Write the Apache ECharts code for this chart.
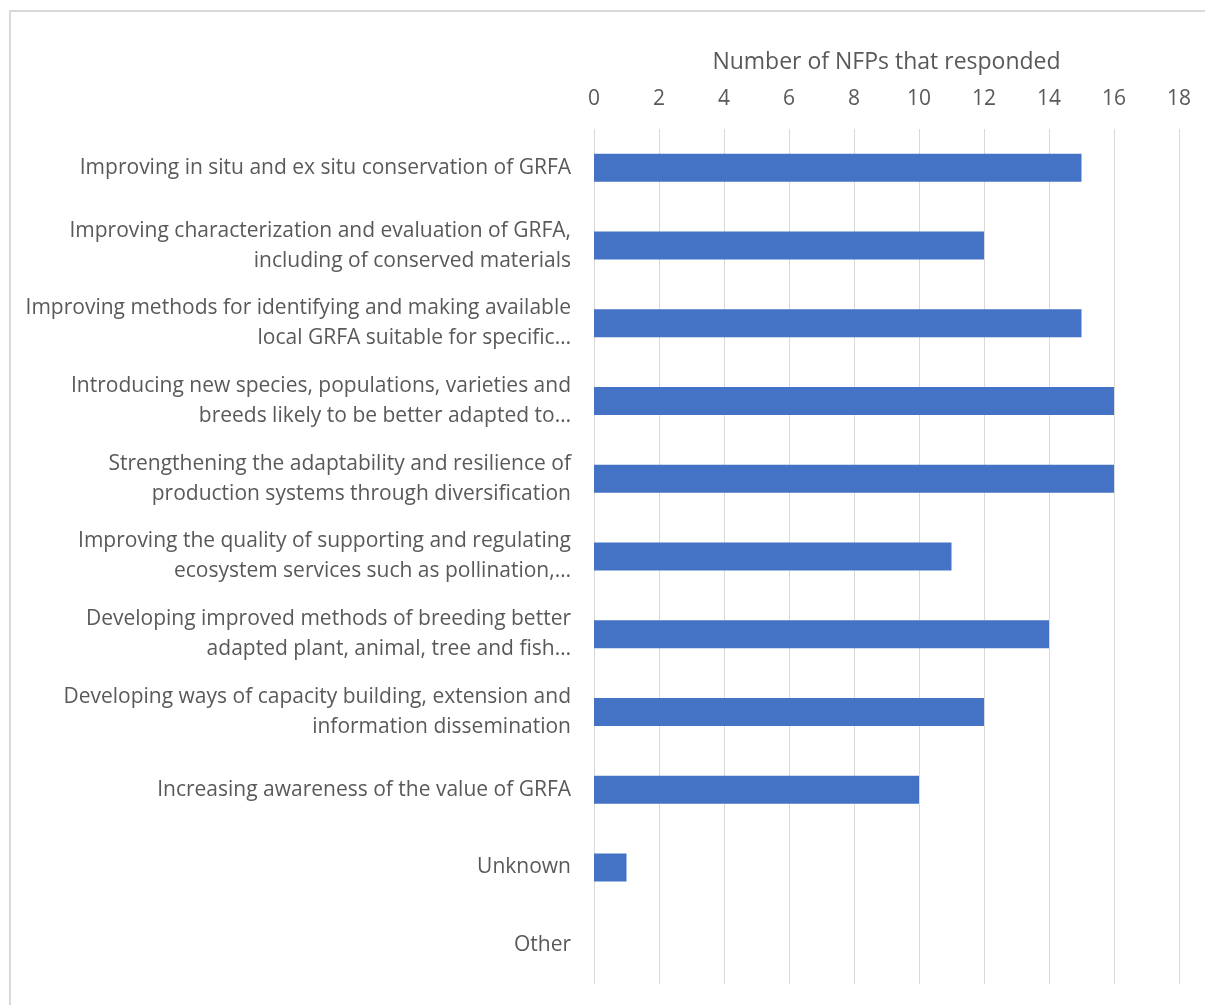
<!DOCTYPE html>
<html>
<head>
<meta charset="utf-8">
<script src="https://cdn.jsdelivr.net/npm/echarts@6/dist/echarts.min.js"></script>
<style>
  html, body { margin: 0; padding: 0; background: #fff; }
  #frame { position: absolute; left: 9px; top: 10px; width: 1205px; height: 1005px;
           border-left: 2px solid #d9d9d9; border-top: 2px solid #d9d9d9; }
  #chart { position: absolute; left: 0; top: 0; width: 1205px; height: 1005px; }
</style>
</head>
<body>
<div id="frame"></div>
<div id="chart"></div>
<script>
// Survey categories (top to bottom)
const categories = [
  'Improving in situ and ex situ conservation of GRFA',
  'Improving characterization and evaluation of GRFA,\nincluding of conserved materials',
  'Improving methods for identifying and making available\nlocal GRFA suitable for specific…',
  'Introducing new species, populations, varieties and\nbreeds likely to be better adapted to…',
  'Strengthening the adaptability and resilience of\nproduction systems through diversification',
  'Improving the quality of supporting and regulating\necosystem services such as pollination,…',
  'Developing improved methods of breeding better\nadapted plant, animal, tree and fish…',
  'Developing ways of capacity building, extension and\ninformation dissemination',
  'Increasing awareness of the value of GRFA',
  'Unknown',
  'Other'
];
// Number of NFPs giving each answer
const responses = [15, 12, 15, 16, 16, 11, 14, 12, 10, 1, 0];
const axisTitle = 'Number of NFPs that responded';

const chart = echarts.init(document.getElementById('chart'), null, { renderer: 'canvas' });
const font = '"Open Sans", Lato, sans-serif';
chart.setOption({
  animation: false,
  backgroundColor: 'transparent',
  grid: { left: 594, right: 26, top: 129, bottom: 21, containLabel: false },
  xAxis: {
    type: 'value',
    position: 'top',
    min: 0, max: 18, interval: 2,
    name: axisTitle,
    nameLocation: 'middle',
    nameGap: 55,
    nameTextStyle: { color: '#595959', fontSize: 23, fontFamily: font },
    axisLine: { show: false },
    axisTick: { show: false },
    axisLabel: { color: '#595959', fontSize: 21, fontFamily: font, margin: 19 },
    splitLine: { show: true, lineStyle: { color: '#d9d9d9', width: 1 } }
  },
  yAxis: {
    type: 'category',
    inverse: true,
    data: categories,
    axisLine: { show: false },
    axisTick: { show: false },
    axisLabel: { color: '#595959', fontSize: 21, fontFamily: font, margin: 23,
                 align: 'right', lineHeight: 30 }
  },
  series: [{
    type: 'bar',
    data: responses,
    barCategoryGap: '64%',
    itemStyle: { color: '#4472c4' }
  }]
});
</script>
</body>
</html>
